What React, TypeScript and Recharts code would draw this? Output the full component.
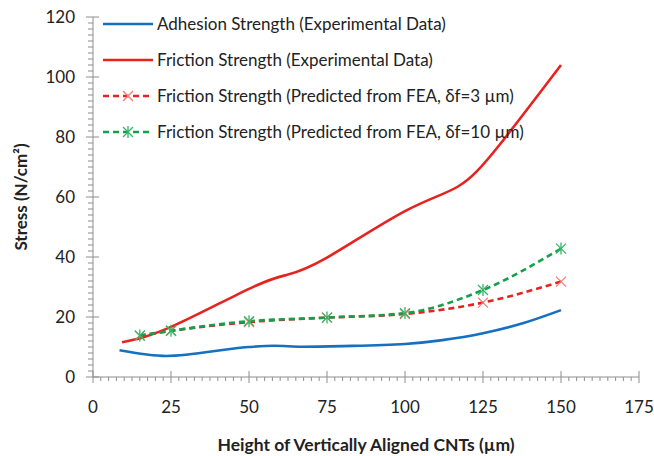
import React from "react";
import { LineChart, Line, XAxis, YAxis, Legend } from "recharts";

// adhesion strength, experimental
const adhesionX = [8.5, 23.5, 50, 58, 67, 80, 100, 112, 125, 138, 150];
const adhesionY = [8.9, 7.0, 10.0, 10.4, 10.1, 10.3, 11.0, 12.3, 14.6, 18.0, 22.3];

// friction strength, experimental
const frictionX = [9.3, 25, 50, 62, 75, 100, 117, 130, 150];
const frictionY = [11.6, 16.7, 29.4, 34.0, 39.8, 55.3, 63.5, 77.0, 104.0];

// FEA predictions
const feaX = [15, 25, 50, 75, 100, 125, 150];
const fea3Y = [13.8, 15.4, 18.3, 19.8, 21.0, 24.8, 31.8];
const fea10Y = [13.8, 15.4, 18.6, 19.8, 21.3, 29.0, 42.8];

const xMajor = [0, 25, 50, 75, 100, 125, 150, 175];
const yMajor = [0, 20, 40, 60, 80, 100, 120];

const legendLabels = [
  "Adhesion Strength (Experimental Data)",
  "Friction Strength (Experimental Data)",
  "Friction Strength (Predicted from FEA, \u03B4f=3 \u00B5m)",
  "Friction Strength (Predicted from FEA, \u03B4f=10 \u00B5m)",
];

const BLUE = "#1570c0";
const RED = "#e8221f";
const GREEN = "#12a04a";
const RED_MK = "#f27a70";
const GREEN_MK = "#2fb765";
const AXIS = "#8e8e8e";
const TEXT = "#222";
const FONT = "Lato, 'Open Sans', sans-serif";

const toRows = (xs: number[], ys: number[]) => xs.map((x, i) => ({ x, y: ys[i] }));

const adhesion = toRows(adhesionX, adhesionY);
const friction = toRows(frictionX, frictionY);
const fea3 = toRows(feaX, fea3Y);
const fea10 = toRows(feaX, fea10Y);

// minor ticks every 2.5 on x and every 2 on y
const xTicks: number[] = [];
for (let i = 0; i <= 70; i++) xTicks.push(i * 2.5);
const yTicks: number[] = [];
for (let i = 0; i <= 60; i++) yTicks.push(i * 2);

const XTick = (props: any) => {
  const { x, y, payload } = props;
  const v = payload.value;
  const major = xMajor.includes(v);
  return (
    <g>
      {major ? (
        <line x1={x} x2={x} y1={y - 6} y2={y + 6} stroke={AXIS} />
      ) : (
        <line x1={x} x2={x} y1={y} y2={y + 4} stroke={AXIS} />
      )}
      {major && (
        <text x={x} y={y + 36} textAnchor="middle" fill={TEXT} fontSize={17} fontFamily={FONT}>
          {v}
        </text>
      )}
    </g>
  );
};

const YTick = (props: any) => {
  const { x, y, payload } = props;
  const v = payload.value;
  const major = yMajor.includes(v);
  return (
    <g>
      {major ? (
        <line x1={x - 7} x2={x + 6} y1={y} y2={y} stroke={AXIS} />
      ) : (
        <line x1={x - 5} x2={x} y1={y} y2={y} stroke={AXIS} />
      )}
      {major && (
        <text x={x - 18} y={y} dy="0.36em" textAnchor="end" fill={TEXT} fontSize={17} fontFamily={FONT}>
          {v}
        </text>
      )}
    </g>
  );
};

const Cross = (props: any) => {
  const { cx, cy } = props;
  if (cx == null || cy == null) return null;
  const r = 5;
  return (
    <g stroke={RED_MK} strokeWidth={1.3}>
      <line x1={cx - r} y1={cy - r} x2={cx + r} y2={cy + r} />
      <line x1={cx - r} y1={cy + r} x2={cx + r} y2={cy - r} />
    </g>
  );
};

const Star = (props: any) => {
  const { cx, cy } = props;
  if (cx == null || cy == null) return null;
  const r = 5;
  return (
    <g stroke={GREEN_MK} strokeWidth={1.3}>
      <line x1={cx - r} y1={cy - r} x2={cx + r} y2={cy + r} />
      <line x1={cx - r} y1={cy + r} x2={cx + r} y2={cy - r} />
      <line x1={cx} y1={cy - r - 1} x2={cx} y2={cy + r + 1} />
    </g>
  );
};

const legendStyles = [
  { color: BLUE, dash: undefined, mark: null },
  { color: RED, dash: undefined, mark: null },
  { color: RED, dash: "6 4", mark: "cross" },
  { color: GREEN, dash: "6 4", mark: "star" },
];

const renderLegend = () => (
  <div style={{ position: "relative", width: 654, height: 160 }}>
    {legendLabels.map((label, i) => {
      const s = legendStyles[i];
      const cy = 24 + i * 36;
      return (
        <div key={label} style={{ position: "absolute", left: 0, top: cy - 18, height: 36, width: 654 }}>
          <svg width={160} height={36} style={{ position: "absolute", left: 0, top: 0 }}>
            <line x1={103} x2={153} y1={18} y2={18} stroke={s.color} strokeWidth={2.6} strokeDasharray={s.dash} />
            {s.mark === "cross" && <Cross cx={128} cy={18} />}
            {s.mark === "star" && <Star cx={128} cy={18} />}
          </svg>
          <span
            style={{
              position: "absolute",
              left: 157,
              top: 0,
              lineHeight: "36px",
              fontSize: 17,
              fontFamily: FONT,
              color: TEXT,
              whiteSpace: "nowrap",
            }}
          >
            {label}
          </span>
        </div>
      );
    })}
  </div>
);

export default function App() {
  return (
    <div style={{ position: "absolute", left: 0, top: 0, width: 654, height: 456, background: "#fff" }}>
      <LineChart width={654} height={456} margin={{ top: 17, right: 15, bottom: 0, left: 0 }}>
        <XAxis
          type="number"
          dataKey="x"
          domain={[0, 175]}
          ticks={xTicks}
          interval={0}
          tickSize={0}
          tickMargin={0}
          tickLine={false}
          tick={<XTick />}
          height={79}
          stroke={AXIS}
          allowDuplicatedCategory={false}
          label={{
            content: (p: any) => {
              const vb = p.viewBox || {};
              return (
                <text
                  x={vb.x + vb.width / 2}
                  y={451}
                  textAnchor="middle"
                  fontSize={17.5}
                  fontWeight="bold"
                  fill={TEXT}
                  fontFamily={FONT}
                >
                  Height of Vertically Aligned CNTs (µm)
                </text>
              );
            },
          }}
        />
        <YAxis
          type="number"
          dataKey="y"
          domain={[0, 120]}
          ticks={yTicks}
          interval={0}
          tickSize={0}
          tickMargin={0}
          tickLine={false}
          tick={<YTick />}
          width={93}
          stroke={AXIS}
          label={{
            content: () => (
              <text
                x={27}
                y={197}
                transform="rotate(-90 27 197)"
                textAnchor="middle"
                fontSize={17}
                fontWeight="bold"
                fill={TEXT}
                fontFamily={FONT}
              >
                Stress (N/cm²)
              </text>
            ),
          }}
        />
        <Legend
          layout="vertical"
          align="center"
          verticalAlign="middle"
          wrapperStyle={{ left: 0, top: 0, width: 654, height: 160 }}
          content={renderLegend}
        />
        <Line
          data={adhesion}
          dataKey="y"
          type="monotone"
          stroke={BLUE}
          strokeWidth={2.6}
          dot={false}
          isAnimationActive={false}
        />
        <Line
          data={friction}
          dataKey="y"
          type="natural"
          stroke={RED}
          strokeWidth={2.6}
          dot={false}
          isAnimationActive={false}
        />
        <Line
          data={fea3}
          dataKey="y"
          type="monotone"
          stroke={RED}
          strokeWidth={2.6}
          strokeDasharray="6 4"
          dot={<Cross />}
          isAnimationActive={false}
        />
        <Line
          data={fea10}
          dataKey="y"
          type="monotone"
          stroke={GREEN}
          strokeWidth={2.6}
          strokeDasharray="6 4"
          dot={<Star />}
          isAnimationActive={false}
        />
      </LineChart>
    </div>
  );
}
